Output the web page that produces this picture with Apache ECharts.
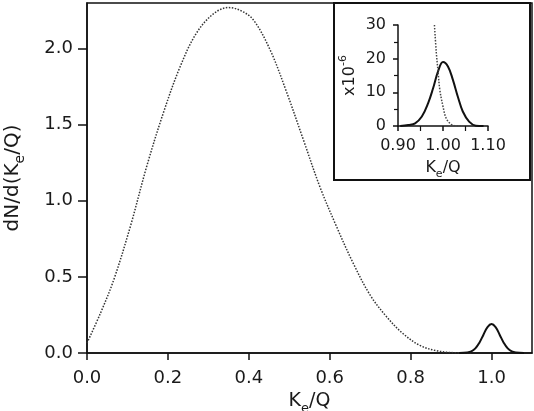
<!DOCTYPE html>
<html>
<head>
<meta charset="utf-8">
<script src="https://cdn.jsdelivr.net/npm/echarts@6/dist/echarts.min.js"></script>
<style>
  html, body { margin: 0; padding: 0; background: #fff; }
  #chart { width: 534px; height: 411px; }
</style>
</head>
<body>
<div id="chart"></div>
<script>
// main spectrum (dotted), K_e/Q vs dN/d(K_e/Q)
const spectrumX = [0, 0.033, 0.066, 0.107, 0.148, 0.189, 0.23, 0.27, 0.313, 0.35, 0.38, 0.411, 0.453, 0.494, 0.535, 0.576, 0.617, 0.658, 0.70, 0.74, 0.78, 0.823, 0.864, 0.905, 0.95];
const spectrumY = [0.066, 0.26, 0.48, 0.83, 1.23, 1.58, 1.88, 2.10, 2.23, 2.27, 2.25, 2.19, 1.99, 1.71, 1.40, 1.09, 0.83, 0.59, 0.38, 0.24, 0.13, 0.05, 0.015, 0.002, 0];

// peak near endpoint (solid), main panel
const peakX = [0.92, 0.94, 0.95, 0.96, 0.97, 0.98, 0.99, 1.00, 1.01, 1.02, 1.03, 1.04, 1.05, 1.06, 1.08];
const peakY = [0, 0.003, 0.01, 0.03, 0.068, 0.12, 0.17, 0.19, 0.17, 0.12, 0.068, 0.03, 0.01, 0.003, 0];

// inset (x10^-6)
const insetPeakX = [0.905, 0.923, 0.938, 0.953, 0.967, 0.978, 0.989, 1.0, 1.011, 1.022, 1.033, 1.044, 1.058, 1.073, 1.09];
const insetPeakY = [0, 0.3, 0.8, 2.8, 6.8, 11.2, 16.2, 19.0, 17.7, 13.7, 8.7, 4.3, 1.3, 0.1, 0];
const insetTailX = [0.981, 0.985, 0.989, 0.993, 1.0, 1.007, 1.018, 1.029, 1.04];
const insetTailY = [30, 22, 16.2, 10.7, 5.8, 2.3, 0.5, 0.05, 0];

const pairs = (xs, ys) => xs.map((x, i) => [x, ys[i]]);

const FONT = 'DejaVu Sans';
const TXT = '#1a1a1a';

// rich text with a lowered "e" / raised "-6"
const subRich = (size) => ({
  a: { fontSize: size, fontFamily: FONT, color: TXT, lineHeight: size + 8, verticalAlign: 'middle' },
  b: { fontSize: Math.round(size * 0.7), fontFamily: FONT, color: TXT, lineHeight: 10, verticalAlign: 'bottom' }
});
const supRich = (size) => ({
  a: { fontSize: size, fontFamily: FONT, color: TXT, lineHeight: size + 8, verticalAlign: 'middle' },
  s: { fontSize: Math.round(size * 0.7), fontFamily: FONT, color: TXT, lineHeight: 10, verticalAlign: 'top' }
});

const chart = echarts.init(document.getElementById('chart'));

const option = {
  animation: false,
  textStyle: { fontFamily: FONT, color: TXT },
  grid: [
    { left: 87, right: 2, top: 3, bottom: 58, show: true, borderColor: '#111', borderWidth: 1.5,
      containLabel: false, outerBoundsMode: 'none' },
    { left: 398, top: 25, width: 90, height: 101, containLabel: false, outerBoundsMode: 'none' }
  ],
  xAxis: [
    {
      gridIndex: 0, type: 'value', min: 0, max: 1.1, interval: 0.2,
      axisLine: { lineStyle: { color: '#111', width: 1.5 } },
      axisTick: { length: 7, lineStyle: { color: '#111', width: 1.5 } },
      splitLine: { show: false },
      axisLabel: { color: TXT, fontSize: 18, fontFamily: FONT, margin: 16, showMaxLabel: false,
        formatter: v => v.toFixed(1) },
      name: '{a|K}{b|e}{a|/Q}', nameLocation: 'middle', nameGap: 31,
      nameTextStyle: { rich: subRich(19) }
    },
    {
      gridIndex: 1, type: 'value', min: 0.9, max: 1.1, interval: 0.1,
      axisLine: { onZero: false, lineStyle: { color: '#111', width: 1.5 } },
      axisTick: { length: 5, lineStyle: { color: '#111', width: 1.5 } },
      minorTick: { show: true, splitNumber: 2, length: 5, lineStyle: { color: '#111', width: 1.2 } },
      splitLine: { show: false },
      axisLabel: { color: TXT, fontSize: 16, fontFamily: FONT, margin: 12, formatter: v => v.toFixed(2) },
      name: '{a|K}{b|e}{a|/Q}', nameLocation: 'middle', nameGap: 30,
      nameTextStyle: { rich: subRich(16) }
    }
  ],
  yAxis: [
    {
      gridIndex: 0, type: 'value', min: 0, max: 2.3, interval: 0.5,
      axisLine: { show: true, lineStyle: { color: '#111', width: 1.5 } },
      axisTick: { show: true, length: 9, lineStyle: { color: '#111', width: 1.5 } },
      splitLine: { show: false },
      axisLabel: { color: TXT, fontSize: 18, fontFamily: FONT, margin: 14, showMaxLabel: false,
        formatter: v => v.toFixed(1) },
      name: '{a|dN/d(K}{b|e}{a|/Q)}', nameLocation: 'middle', nameGap: 60, nameRotate: 90,
      nameTextStyle: { rich: subRich(20) }
    },
    {
      gridIndex: 1, type: 'value', min: 0, max: 30, interval: 10,
      axisLine: { show: true, onZero: false, lineStyle: { color: '#111', width: 1.5 } },
      axisTick: { show: true, length: 5, lineStyle: { color: '#111', width: 1.5 } },
      minorTick: { show: true, splitNumber: 2, length: 4, lineStyle: { color: '#111', width: 1.2 } },
      splitLine: { show: false },
      axisLabel: { color: TXT, fontSize: 16, fontFamily: FONT, margin: 12 },
      name: '{a|x10}{s|-6}', nameLocation: 'middle', nameGap: 36, nameRotate: 90,
      nameTextStyle: { rich: supRich(16) }
    }
  ],
  graphic: [
    { type: 'rect', z: 10, shape: { x: 334, y: 3, width: 196, height: 177 },
      style: { fill: 'none', stroke: '#111', lineWidth: 2 } }
  ],
  series: [
    { type: 'line', xAxisIndex: 0, yAxisIndex: 0, data: pairs(spectrumX, spectrumY),
      smooth: 0.35, showSymbol: false,
      lineStyle: { color: '#333', width: 1.5, type: [1.5, 1.5] } },
    { type: 'line', xAxisIndex: 0, yAxisIndex: 0, data: pairs(peakX, peakY),
      smooth: 0.4, showSymbol: false,
      lineStyle: { color: '#111', width: 2 } },
    { type: 'line', xAxisIndex: 1, yAxisIndex: 1, data: pairs(insetPeakX, insetPeakY),
      smooth: 0.4, showSymbol: false,
      lineStyle: { color: '#111', width: 2 } },
    { type: 'line', xAxisIndex: 1, yAxisIndex: 1, data: pairs(insetTailX, insetTailY),
      smooth: 0.35, showSymbol: false,
      lineStyle: { color: '#444', width: 1.5, type: [1.5, 1.5] } }
  ]
};

chart.setOption(option);
</script>
</body>
</html>
